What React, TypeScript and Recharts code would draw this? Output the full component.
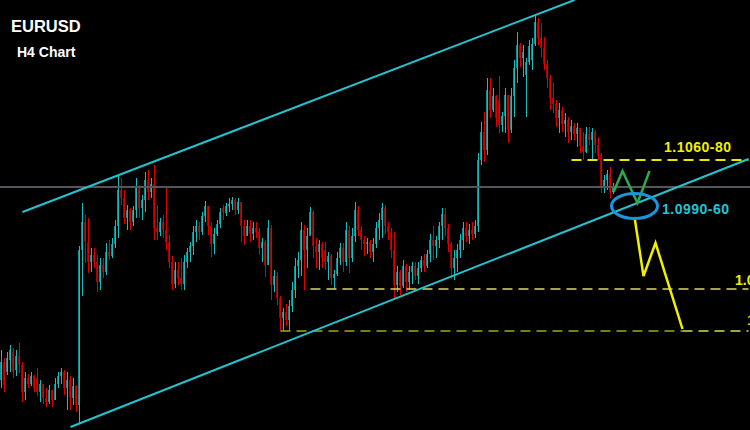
import React from 'react';
import { ComposedChart, Bar, Line, XAxis, YAxis, ReferenceLine, ReferenceDot } from 'recharts';

// ---- candle data (EURUSD H4), one entry per bar ----
const highs = [
  1.0880, 1.0872, 1.0878, 1.0885, 1.0882, 1.0880, 1.0887, 1.0868, 1.0858, 1.0856,
  1.0858, 1.0855, 1.0862, 1.0850, 1.0846, 1.0842, 1.0845, 1.0840, 1.0852, 1.0858,
  1.0862, 1.0860, 1.0858, 1.0854, 1.0852, 1.0845, 1.0984, 1.1027, 1.1015, 1.1012,
  1.0982, 1.0982, 1.0975, 1.0972, 1.0972, 1.0987, 1.0990, 1.0992, 1.1010, 1.1055,
  1.1052, 1.1040, 1.1025, 1.1022, 1.1024, 1.1052, 1.1045, 1.1035, 1.1058, 1.1060,
  1.1052, 1.1065, 1.1025, 1.1012, 1.1015, 1.1043, 1.0995, 1.0974, 1.0968, 1.0968,
  1.0972, 1.0975, 1.0982, 1.0988, 1.1004, 1.1010, 1.1008, 1.1018, 1.1029, 1.1024,
  1.1008, 1.1002, 1.1010, 1.1022, 1.1025, 1.1027, 1.1032, 1.1033, 1.1032, 1.1032,
  1.1028, 1.1010, 1.1010, 1.1010, 1.1008, 1.1008, 1.1002, 1.0992, 1.0990, 1.1010,
  1.1005, 1.0960, 1.0958, 1.0934, 1.0922, 1.0926, 1.0930, 1.0948, 1.0972, 1.0978,
  1.1008, 1.1005, 1.1002, 1.1023, 1.1020, 1.0992, 1.0990, 1.0988, 1.0988, 1.0978,
  1.0976, 1.0960, 1.0978, 1.0987, 1.0987, 1.1008, 1.1004, 1.1002, 1.1028, 1.1024,
  1.1004, 1.0994, 1.0992, 1.0990, 1.0992, 1.1008, 1.1017, 1.1027, 1.1025, 1.1008,
  1.1002, 1.0998, 1.0964, 1.0960, 1.0970, 1.0966, 1.0964, 1.0968, 1.0968, 1.0968,
  1.0974, 1.0976, 1.0980, 1.0996, 1.1004, 1.0994, 1.1008, 1.1022, 1.1022, 1.1006,
  1.0988, 1.0980, 1.0986, 1.0996, 1.1008, 1.1008, 1.1006, 1.1008, 1.1010, 1.1077,
  1.1108, 1.1118, 1.1152, 1.1152, 1.1142, 1.1135, 1.1154, 1.1118, 1.1142, 1.1135,
  1.1142, 1.1170, 1.1198, 1.1187, 1.1185, 1.1172, 1.1190, 1.1192, 1.1215, 1.1212,
  1.1207, 1.1193, 1.1170, 1.1155, 1.1147, 1.1130, 1.1127, 1.1123, 1.1117, 1.1113,
  1.1110, 1.1107, 1.1107, 1.1102, 1.1098, 1.1103, 1.1103, 1.1102, 1.1100, 1.1093,
  1.1077, 1.1055, 1.1060, 1.1063, 1.1047,
];
const lows = [
  1.0842, 1.0838, 1.0855, 1.0858, 1.0852, 1.0854, 1.0857, 1.0828, 1.0830, 1.0842,
  1.0844, 1.0838, 1.0834, 1.0828, 1.0826, 1.0823, 1.0826, 1.0823, 1.0830, 1.0842,
  1.0846, 1.0835, 1.0820, 1.0820, 1.0825, 1.0818, 1.0807, 1.0934, 1.0967, 1.0957,
  1.0958, 1.0962, 1.0938, 1.0940, 1.0952, 1.0955, 1.0970, 1.0972, 1.0982, 1.0992,
  1.1025, 1.1006, 1.1000, 1.1000, 1.1004, 1.1012, 1.1012, 1.1010, 1.1018, 1.1030,
  1.1032, 1.0990, 1.0990, 1.0994, 1.0992, 1.0980, 1.0962, 1.0940, 1.0942, 1.0945,
  1.0940, 1.0940, 1.0962, 1.0968, 1.0975, 1.0988, 1.0990, 1.0995, 1.1008, 1.0995,
  1.0973, 1.0976, 1.0994, 1.1002, 1.1010, 1.1014, 1.1018, 1.1020, 1.1015, 1.1016,
  1.0988, 1.0985, 1.0994, 1.0988, 1.0990, 1.0992, 1.0975, 1.0968, 1.0953, 1.0965,
  1.0930, 1.0938, 1.0925, 1.0899, 1.0899, 1.0904, 1.0899, 1.0918, 1.0932, 1.0952,
  1.0954, 1.0940, 1.0962, 1.0995, 1.0972, 1.0962, 1.0960, 1.0962, 1.0960, 1.0950,
  1.0945, 1.0941, 1.0954, 1.0965, 1.0958, 1.0964, 1.0957, 1.0968, 1.0988, 1.0994,
  1.0980, 1.0974, 1.0976, 1.0972, 1.0968, 1.0982, 1.0990, 1.0992, 1.0996, 1.0990,
  1.0972, 1.0930, 1.0938, 1.0935, 1.0942, 1.0938, 1.0940, 1.0946, 1.0950, 1.0946,
  1.0958, 1.0958, 1.0962, 1.0968, 1.0970, 1.0972, 1.0982, 1.0990, 1.0994, 1.0978,
  1.0951, 1.0950, 1.0958, 1.0972, 1.0980, 1.0988, 1.0986, 1.0990, 1.0992, 1.0998,
  1.1065, 1.1068, 1.1075, 1.1112, 1.1118, 1.1103, 1.1097, 1.1098, 1.1097, 1.1087,
  1.1097, 1.1113, 1.1147, 1.1163, 1.1153, 1.1113, 1.1165, 1.1160, 1.1184, 1.1185,
  1.1173, 1.1160, 1.1142, 1.1120, 1.1117, 1.1103, 1.1097, 1.1098, 1.1093, 1.1087,
  1.1090, 1.1090, 1.1083, 1.1077, 1.1070, 1.1077, 1.1085, 1.1070, 1.1077, 1.1070,
  1.1037, 1.1037, 1.1040, 1.1032, 1.1036,
];
const opens = [
  1.0850, 1.0868, 1.0858, 1.0870, 1.0878, 1.0860, 1.0874, 1.0865, 1.0838, 1.0852,
  1.0846, 1.0854, 1.0852, 1.0838, 1.0846, 1.0832, 1.0828, 1.0840, 1.0830, 1.0846,
  1.0854, 1.0858, 1.0842, 1.0850, 1.0832, 1.0844, 1.0825, 1.0980, 1.1008, 1.0988,
  1.0968, 1.0975, 1.0968, 1.0948, 1.0965, 1.0958, 1.0978, 1.0974, 1.0986, 1.1004,
  1.1040, 1.1032, 1.1012, 1.1020, 1.1008, 1.1020, 1.1044, 1.1022, 1.1030, 1.1050,
  1.1038, 1.1046, 1.1002, 1.0998, 1.1008, 1.1000, 1.0988, 1.0968, 1.0946, 1.0960,
  1.0952, 1.0946, 1.0968, 1.0978, 1.0984, 1.0998, 1.1004, 1.0998, 1.1014, 1.1024,
  1.1004, 1.0986, 1.0996, 1.1006, 1.1022, 1.1017, 1.1024, 1.1026, 1.1030, 1.1020,
  1.1028, 1.1004, 1.0994, 1.1004, 1.0996, 1.1002, 1.0998, 1.0982, 1.0988, 1.0965,
  1.1002, 1.0945, 1.0954, 1.0932, 1.0912, 1.0918, 1.0910, 1.0924, 1.0940, 1.0964,
  1.0970, 1.1000, 1.0980, 1.0994, 1.1018, 1.0984, 1.0978, 1.0986, 1.0980, 1.0968,
  1.0974, 1.0952, 1.0956, 1.0972, 1.0982, 1.0968, 1.1000, 1.0972, 1.0994, 1.1020,
  1.1000, 1.0990, 1.0986, 1.0988, 1.0978, 1.0986, 1.1002, 1.1010, 1.1022, 1.1004,
  1.0998, 1.0980, 1.0945, 1.0958, 1.0944, 1.0964, 1.0948, 1.0958, 1.0964, 1.0954,
  1.0962, 1.0970, 1.0964, 1.0976, 1.0990, 1.0984, 1.0990, 1.1004, 1.1016, 1.1002,
  1.0986, 1.0962, 1.0972, 1.0980, 1.0990, 1.1002, 1.0994, 1.1000, 1.0996, 1.1004,
  1.1070, 1.1098, 1.1080, 1.1140, 1.1120, 1.1134, 1.1130, 1.1105, 1.1114, 1.1135,
  1.1100, 1.1134, 1.1162, 1.1185, 1.1172, 1.1155, 1.1168, 1.1170, 1.1186, 1.1208,
  1.1192, 1.1182, 1.1166, 1.1152, 1.1132, 1.1126, 1.1112, 1.1120, 1.1106, 1.1110,
  1.1098, 1.1104, 1.1096, 1.1102, 1.1084, 1.1078, 1.1096, 1.1090, 1.1098, 1.1085,
  1.1075, 1.1042, 1.1050, 1.1056, 1.1038,
];
const closes = [
  1.0868, 1.0845, 1.0872, 1.0880, 1.0858, 1.0874, 1.0865, 1.0838, 1.0852, 1.0846,
  1.0854, 1.0842, 1.0838, 1.0846, 1.0832, 1.0828, 1.0840, 1.0830, 1.0846, 1.0854,
  1.0858, 1.0842, 1.0850, 1.0832, 1.0844, 1.0825, 1.0980, 1.1008, 1.0988, 1.0968,
  1.0975, 1.0968, 1.0948, 1.0965, 1.0958, 1.0978, 1.0974, 1.0986, 1.1004, 1.1040,
  1.1032, 1.1012, 1.1020, 1.1008, 1.1020, 1.1044, 1.1022, 1.1030, 1.1050, 1.1038,
  1.1046, 1.1002, 1.0998, 1.1008, 1.1000, 1.0988, 1.0968, 1.0946, 1.0960, 1.0952,
  1.0946, 1.0968, 1.0978, 1.0984, 1.0998, 1.1004, 1.0998, 1.1014, 1.1024, 1.1004,
  1.0986, 1.0996, 1.1006, 1.1018, 1.1017, 1.1024, 1.1026, 1.1030, 1.1020, 1.1028,
  1.1004, 1.0994, 1.1004, 1.0996, 1.1002, 1.0998, 1.0982, 1.0988, 1.0965, 1.1002,
  1.0945, 1.0954, 1.0932, 1.0912, 1.0918, 1.0910, 1.0924, 1.0940, 1.0964, 1.0970,
  1.1000, 1.0980, 1.0994, 1.1018, 1.0984, 1.0978, 1.0986, 1.0972, 1.0968, 1.0974,
  1.0952, 1.0956, 1.0972, 1.0982, 1.0968, 1.1000, 1.0972, 1.0994, 1.1020, 1.1000,
  1.0990, 1.0986, 1.0988, 1.0978, 1.0986, 1.1002, 1.1010, 1.1022, 1.1004, 1.0998,
  1.0980, 1.0945, 1.0958, 1.0944, 1.0964, 1.0948, 1.0958, 1.0964, 1.0954, 1.0962,
  1.0970, 1.0964, 1.0976, 1.0990, 1.0984, 1.0990, 1.1004, 1.1016, 1.1002, 1.0986,
  1.0962, 1.0972, 1.0980, 1.0990, 1.1002, 1.0994, 1.1000, 1.0996, 1.1004, 1.1070,
  1.1098, 1.1080, 1.1140, 1.1120, 1.1134, 1.1112, 1.1105, 1.1114, 1.1135, 1.1100,
  1.1134, 1.1162, 1.1185, 1.1172, 1.1178, 1.1168, 1.1184, 1.1186, 1.1208, 1.1192,
  1.1182, 1.1166, 1.1152, 1.1132, 1.1126, 1.1112, 1.1120, 1.1106, 1.1110, 1.1098,
  1.1104, 1.1096, 1.1102, 1.1084, 1.1078, 1.1096, 1.1090, 1.1098, 1.1085, 1.1075,
  1.1042, 1.1050, 1.1056, 1.1038, 1.1044,
];

// total bar slots on the time axis (history + projected future)
const slotCount = 250;

// price window of the chart
const priceMin = 1.08;
const priceMax = 1.123;

// horizontal reference: current price line
const currentPrice = 1.1043;

// channel lines: [bar index, price]
const upperChannel = [[7, 1.1018], [191, 1.123]];
const lowerChannel = [[23, 1.0803], [249, 1.1071]];

// dashed levels
const levelPrices = [1.107, 1.0941, 1.0899, 1.0899];
const levelFrom = [190, 103, 93, 227];
const levelTo = [249, 249, 227, 249];

// projected paths
const greenIdx = [204, 207, 212, 216];
const greenPrice = [1.1038, 1.1059, 1.1027, 1.1059];
const yellowIdx = [211, 214, 218, 227];
const yellowPrice = [1.1013, 1.0954, 1.0987, 1.0901];

// support zone marker
const zoneIdx = 211;
const zonePrice = 1.1024;

const title = 'EURUSD';
const subtitle = 'H4 Chart';
const labelTexts = ['1.1060-80', '1.0990-60', '1.0', '1.0'];

const rows = Array.from({ length: slotCount }, (_, i) => {
  const has = i < highs.length;
  const gi = greenIdx.indexOf(i);
  const yi = yellowIdx.indexOf(i);
  return {
    i,
    o: has ? opens[i] : null,
    h: has ? highs[i] : null,
    l: has ? lows[i] : null,
    c: has ? closes[i] : null,
    range: has ? [lows[i], highs[i]] : null,
    green: gi >= 0 ? greenPrice[gi] : null,
    yellow: yi >= 0 ? yellowPrice[yi] : null,
  };
});

const Candle = (props: any) => {
  const { x, y, width, height, payload } = props;
  if (!payload || payload.h == null || x == null || y == null || isNaN(y)) return <g />;
  const top = Math.min(y, y + height);
  const bot = Math.max(y, y + height);
  const span = payload.h - payload.l;
  const toY = (v: number) => (span === 0 ? top : top + ((payload.h - v) / span) * (bot - top));
  const up = payload.c >= payload.o;
  const body = up ? '#0a9090' : '#a80000';
  const wick = up ? '#1abcbc' : '#dc0000';
  const cx = Math.floor(x + width / 2);
  const yo = toY(payload.o);
  const yc = toY(payload.c);
  const bt = Math.min(yo, yc);
  const bh = Math.max(1, Math.abs(yo - yc));
  return (
    <g>
      <rect x={cx - 1} y={bt} width={2} height={bh} fill={body} />
      <rect x={cx} y={top} width={1} height={Math.max(1, bot - top)} fill={wick} />
    </g>
  );
};

const levelColors = ['#e8e800', '#d8d860', '#a6a61c', '#d8d860'];
const levelWidths = [2, 1.5, 1.5, 1.5];

export default function App() {
  return (
    <div style={{ position: 'fixed', left: 0, top: 0, width: 750, height: 430, background: '#000', overflow: 'hidden' }}>
      <ComposedChart
        width={750}
        height={430}
        data={rows}
        margin={{ top: 0, right: 0, bottom: 0, left: 0 }}
        barCategoryGap={0}
        barGap={0}
      >
        <XAxis dataKey="i" type="category" hide />
        <YAxis type="number" domain={[priceMin, priceMax]} hide allowDataOverflow />
        <ReferenceLine y={currentPrice} stroke="#55555f" strokeWidth={2} ifOverflow="visible" />
        <Bar dataKey="range" barSize={3} shape={Candle} isAnimationActive={false} />
        {levelPrices.map((p, k) => (
          <ReferenceLine
            key={'lvl' + k}
            segment={[{ x: levelFrom[k], y: p }, { x: levelTo[k], y: p }]}
            stroke={levelColors[k]}
            strokeWidth={levelWidths[k]}
            strokeDasharray="10 6"
            ifOverflow="visible"
          />
        ))}
        <ReferenceLine
          segment={[{ x: upperChannel[0][0], y: upperChannel[0][1] }, { x: upperChannel[1][0], y: upperChannel[1][1] }]}
          stroke="#22c4d0"
          strokeWidth={2}
          ifOverflow="visible"
        />
        <ReferenceLine
          segment={[{ x: lowerChannel[0][0], y: lowerChannel[0][1] }, { x: lowerChannel[1][0], y: lowerChannel[1][1] }]}
          stroke="#22c4d0"
          strokeWidth={2}
          ifOverflow="visible"
        />
        <Line dataKey="green" stroke="#2eaa4a" strokeWidth={2.5} dot={false} connectNulls isAnimationActive={false} />
        <ReferenceDot
          x={zoneIdx}
          y={zonePrice}
          r={0}
          ifOverflow="visible"
          shape={(p: any) => (
            <ellipse cx={p.cx} cy={p.cy} rx={23} ry={12.5} fill="none" stroke="#1b95dc" strokeWidth={3} />
          )}
        />
        <Line dataKey="yellow" stroke="#f0f000" strokeWidth={2.5} dot={false} connectNulls isAnimationActive={false} />
      </ComposedChart>
      <svg width={750} height={430} style={{ position: 'absolute', left: 0, top: 0, pointerEvents: 'none' }}>
        <g fontFamily="'Liberation Sans', Arial, sans-serif" fontWeight="bold">
          <text x={11} y={32} fontSize={16.5} fill="#ffffff">{title}</text>
          <text x={17} y={57} fontSize={14} fill="#ffffff">{subtitle}</text>
          <text x={664} y={152} fontSize={14} letterSpacing={0.5} fill="#f0f000">{labelTexts[0]}</text>
          <text x={662} y={214} fontSize={14} letterSpacing={0.5} fill="#22c4d4">{labelTexts[1]}</text>
          <text x={735} y={285} fontSize={14} fill="#f0f000">{labelTexts[2]}</text>
          <text x={747} y={325} fontSize={14} fill="#c8d200">{labelTexts[3]}</text>
        </g>
      </svg>
    </div>
  );
}
